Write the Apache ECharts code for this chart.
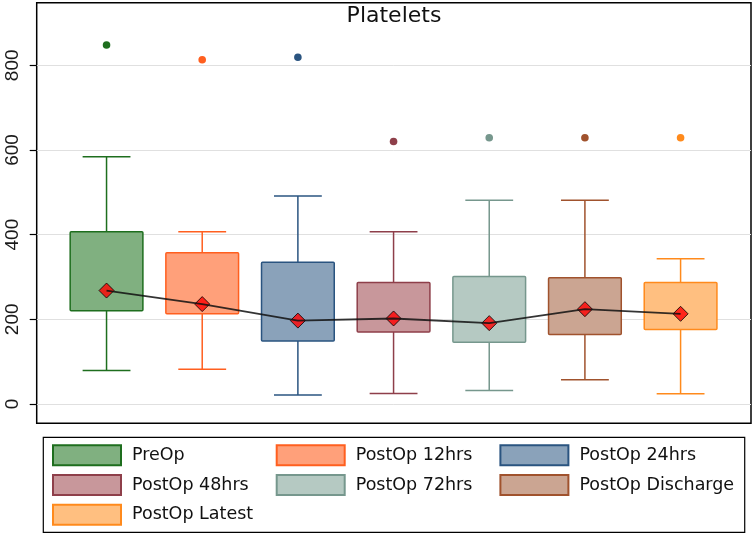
<!DOCTYPE html>
<html>
<head>
<meta charset="utf-8">
<title>Platelets</title>
<script src="https://cdn.jsdelivr.net/npm/echarts@6/dist/echarts.min.js"></script>
<style>
  html, body { margin: 0; padding: 0; background: #fff; }
  #chart { width: 755px; height: 533px; }
</style>
</head>
<body>
<div id="chart"></div>
<script>
// values
const categories = ['PreOp', 'PostOp 12hrs', 'PostOp 24hrs', 'PostOp 48hrs', 'PostOp 72hrs', 'PostOp Discharge', 'PostOp Latest'];
const lowerWhisker = [79, 82, 21, 25, 32, 57, 24];
const q1 = [220, 213, 149, 170, 146, 164, 176];
const q3 = [407, 357, 335, 287, 301, 298, 287];
const upperWhisker = [584, 407, 491, 407, 481, 481, 343];
const outliers = [848, 813, 819, 620, 629, 629, 629];
const means = [268, 236, 197, 202, 191, 224, 213];
const yTicks = [0, 200, 400, 600, 800];

const fills = ['#80b080', '#ffa07a', '#8aa2ba', '#c8979b', '#b5c9c2', '#cba592', '#ffbf80'];
const strokes = ['#1e6e1e', '#ff5f1f', '#2a5480', '#8e3f4a', '#76978d', '#a0522d', '#ff8a1c'];

const chart = echarts.init(document.getElementById('chart'));

function boxRenderer(fill, stroke) {
  return function (params, api) {
    const x = api.value(0);
    const pt = v => api.coord([x, v]);
    const boxW = api.size([0.76, 0])[0];
    const capW = api.size([0.5, 0])[0];
    const lo = pt(api.value(1));
    const b1 = pt(api.value(2));
    const b3 = pt(api.value(3));
    const hi = pt(api.value(4));
    const out = pt(api.value(5));
    const ls = { stroke: stroke, lineWidth: 1.5, fill: null };
    return {
      type: 'group',
      children: [
        { type: 'line', shape: { x1: hi[0], y1: hi[1], x2: b3[0], y2: b3[1] }, style: ls },
        { type: 'line', shape: { x1: b1[0], y1: b1[1], x2: lo[0], y2: lo[1] }, style: ls },
        { type: 'line', shape: { x1: hi[0] - capW / 2, y1: hi[1], x2: hi[0] + capW / 2, y2: hi[1] }, style: ls },
        { type: 'line', shape: { x1: lo[0] - capW / 2, y1: lo[1], x2: lo[0] + capW / 2, y2: lo[1] }, style: ls },
        {
          type: 'rect',
          shape: { x: b3[0] - boxW / 2, y: b3[1], width: boxW, height: b1[1] - b3[1], r: 1 },
          style: { fill: fill, stroke: stroke, lineWidth: 1.5 }
        },
        { type: 'circle', shape: { cx: out[0], cy: out[1], r: 3.8 }, style: { fill: stroke } }
      ]
    };
  };
}

const boxSeries = categories.map((name, i) => ({
  name: name,
  type: 'custom',
  xAxisIndex: 1,
  yAxisIndex: 1,
  clip: false,
  itemStyle: { color: fills[i], borderColor: strokes[i], borderWidth: 1.5 },
  encode: { x: 0, y: [1, 2, 3, 4, 5] },
  renderItem: boxRenderer(fills[i], strokes[i]),
  data: [[i + 1, lowerWhisker[i], q1[i], q3[i], upperWhisker[i], outliers[i]]],
  z: 2
}));

const meanPoints = means.map((m, i) => [i + 1, m]);

const option = {
  animation: false,
  backgroundColor: '#fff',
  title: {
    text: 'Platelets',
    left: 394,
    top: 5,
    padding: 0,
    textAlign: 'center',
    textStyle: { fontFamily: 'DejaVu Sans', fontSize: 22, fontWeight: 'normal', color: '#111' }
  },
  legend: {
    data: categories,
    icon: 'rect',
    left: 43.3,
    top: 437.3,
    width: 692,
    padding: [7, 10.6, 6.7, 8.7],
    itemWidth: 68,
    itemHeight: 20,
    itemGap: 7.7,
    borderColor: '#000',
    borderWidth: 1.2,
    selectedMode: false,
    textStyle: {
      fontFamily: 'DejaVu Sans',
      fontSize: 17.5,
      color: '#111',
      width: 136,
      lineHeight: 20,
      padding: [0, 0, 0, 6]
    }
  },
  grid: [
    { left: 36.7, top: 2.7, width: 714.3, height: 420.6, show: true, borderColor: '#000', borderWidth: 1.5, backgroundColor: 'transparent' },
    { left: 36.7, top: 65.3, width: 714.3, height: 338.7 }
  ],
  xAxis: [
    { gridIndex: 0, type: 'value', show: false, min: 0, max: 1 },
    { gridIndex: 1, type: 'value', show: false, min: 0.27, max: 7.736 }
  ],
  yAxis: [
    { gridIndex: 0, type: 'value', show: false, min: 0, max: 1 },
    {
      gridIndex: 1,
      type: 'value',
      min: yTicks[0],
      max: yTicks[yTicks.length - 1],
      interval: yTicks[1] - yTicks[0],
      axisLine: { show: false },
      axisTick: { show: true, length: 7, lineStyle: { color: '#000', width: 1.2 } },
      axisLabel: { rotate: 90, margin: 14, fontSize: 19, fontFamily: 'Liberation Sans', color: '#1a1a1a' },
      splitLine: { show: true, lineStyle: { color: '#e0e0e0', width: 1 } }
    }
  ],
  series: boxSeries.concat([
    {
      name: 'Mean markers',
      type: 'scatter',
      xAxisIndex: 1,
      yAxisIndex: 1,
      symbol: 'diamond',
      symbolSize: 15,
      itemStyle: { color: '#ff0000', borderColor: '#000', borderWidth: 1 },
      data: meanPoints,
      z: 3
    },
    {
      name: 'Mean line',
      type: 'line',
      xAxisIndex: 1,
      yAxisIndex: 1,
      showSymbol: false,
      symbol: 'none',
      lineStyle: { color: '#111', width: 1.8, opacity: 0.85 },
      data: meanPoints,
      z: 4
    }
  ])
};

chart.setOption(option);
</script>
</body>
</html>
